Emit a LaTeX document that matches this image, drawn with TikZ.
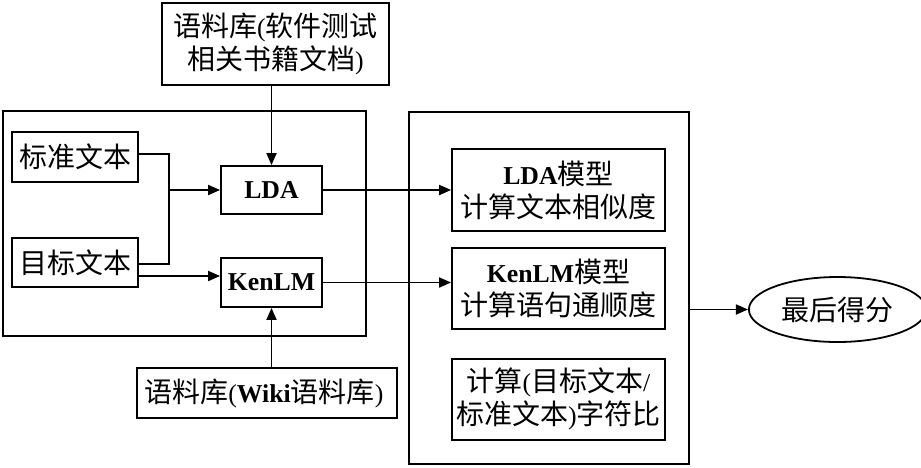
\documentclass[tikz,border=0pt]{standalone}
\usepackage{fontspec}
\setmainfont{Noto Sans CJK SC}
\newfontfamily\latfont[Scale=0.92]{Liberation Serif}
\newcommand{\eng}[1]{{\latfont\bfseries #1}}
\usetikzlibrary{positioning, shapes.geometric, arrows.meta}

\begin{document}
\begin{tikzpicture}[
		x=0.5pt, y=-0.5pt,
		font=\fontsize{14}{16.5}\selectfont,
		box/.style={
			draw,
			line width=0.9pt,
			align=center,
			inner sep=1pt
		},
		frame/.style={draw, line width=0.9pt},
		arr/.style={-{Triangle[length=6pt,width=5pt]}, line width=0.9pt},
		line/.style={line width=0.9pt}
		]
		\useasboundingbox (0,0) rectangle (921,467);
		
		% --- Frames ---
		\node[frame, minimum width=181.5pt, minimum height=112.5pt] (lframe) at (184.5,223.5) {};
		\node[frame, minimum width=140pt, minimum height=176pt] (rframe) at (549,288) {};
		
		% --- Corpora ---
		\node[box, minimum width=113.5pt, minimum height=41pt] (corpus1) at (275.5,44) {
			语料库{\latfont(}软件测试\\
			相关书籍文档{\latfont)}
		};
		\node[box, minimum width=130pt, minimum height=25pt] (corpus2) at (267,393) {
			语料库{\latfont(}\eng{Wiki}语料库{\latfont)}
		};
		
		% --- Texts ---
		\node[box, minimum width=63pt, minimum height=25pt] (std) at (75,157) {标准文本};
		\node[box, minimum width=63pt, minimum height=24.5pt] (tgt) at (75,262.5) {目标文本};
		
		% --- Models ---
		\node[box, minimum width=50.5pt, minimum height=24pt] (lda) at (271.5,190) {\eng{LDA}};
		\node[box, minimum width=50.5pt, minimum height=24.5pt] (kenlm) at (271.5,282.5) {\eng{KenLM}};
		
		% --- Scores ---
		\node[box, minimum width=106.5pt, minimum height=41pt] (ldam) at (558.5,190) {
			\eng{LDA}模型\\
			计算文本相似度
		};
		\node[box, minimum width=106.5pt, minimum height=40.5pt, below=7.5pt of ldam] (kenm) {
			\eng{KenLM}模型\\
			计算语句通顺度
		};
		\node[box, minimum width=106.5pt, minimum height=40.5pt, below=14pt of kenm] (ratio) {
			计算{\latfont(}目标文本{\latfont/}\\
			标准文本{\latfont)}字符比
		};
		
		% --- Result ---
		\node[draw, ellipse, line width=0.9pt, minimum width=80.5pt, minimum height=32.5pt] (score) at (837.5,309.5) {最后得分};
		
		% --- Connectors ---
		\coordinate (join) at (169,190);
		\draw[line] ([yshift=1.5pt]std.east) -| (join) |- ([yshift=-0.75pt]tgt.east);
		\draw[arr] (join) -- (lda.west);
		\draw[arr] ([yshift=-6.75pt]tgt.east) -- ([yshift=-6.75pt]tgt.east -| kenlm.west);
		\draw[arr] (corpus1.south -| lda.north) -- (lda.north);
		\draw[arr] (corpus2.north -| kenlm.south) -- (kenlm.south);
		\draw[arr] (lda.east) -- (ldam.west);
		\draw[arr] (kenlm.east) -- (kenlm.east -| kenm.west);
		\draw[arr] (rframe.east |- score.west) -- (score.west);
		
	\end{tikzpicture}
\end{document}
